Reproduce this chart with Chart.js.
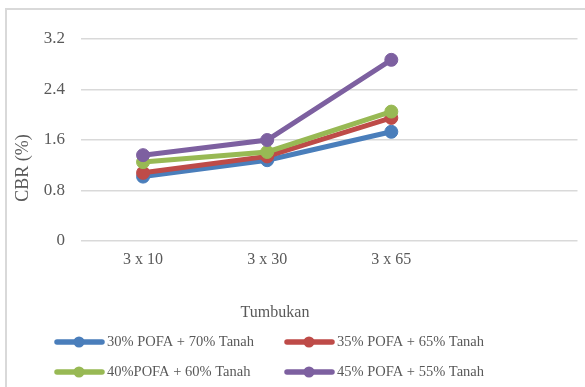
<!DOCTYPE html>
<html>
<head>
<meta charset="utf-8">
<script src="https://cdn.jsdelivr.net/npm/chart.js@4"></script>
<style>
  html, body { margin: 0; padding: 0; background: #ffffff; }
  #wrap { width: 585px; height: 387px; }
</style>
</head>
<body>
<div id="wrap"><canvas id="c" width="585" height="387"></canvas></div>
<script>
// Compaction categories (the last slot is left empty)
const categories = ['3 x 10', '3 x 30', '3 x 65', ''];
const yTicks = [0, 0.8, 1.6, 2.4, 3.2];

// CBR values (%) for each POFA / soil mixture
const pofa30 = [1.02, 1.28, 1.73];
const pofa35 = [1.08, 1.34, 1.95];
const pofa40 = [1.25, 1.41, 2.05];
const pofa45 = [1.36, 1.60, 2.87];

const seriesNames = [
  '30% POFA + 70% Tanah',
  '35% POFA + 65% Tanah',
  '40%POFA + 60% Tanah',
  '45% POFA + 55% Tanah'
];
const seriesColors = ['#4A7EBB', '#BE4B48', '#98B954', '#7D60A0'];
const xTitle = 'Tumbukan';
const yTitle = 'CBR (%)';

const textColor = '#595959';
const serif = '"Liberation Serif", "Times New Roman", serif';

function makeSet(label, data, color, order) {
  return {
    label: label,
    data: data,
    borderColor: color,
    backgroundColor: color,
    borderWidth: 5,
    pointRadius: 6.5,
    pointHoverRadius: 6.5,
    pointBorderWidth: 1,
    pointBorderColor: color,
    pointBackgroundColor: color,
    tension: 0,
    order: order
  };
}

// Frame, axis titles and the two-column legend
const decorations = {
  id: 'decorations',
  beforeDraw(chart) {
    const ctx = chart.ctx;
    ctx.save();
    ctx.strokeStyle = '#d9d9d9';
    ctx.lineWidth = 2;
    ctx.strokeRect(6, 9, 700, 500);
    ctx.restore();
  },
  afterDraw(chart) {
    const ctx = chart.ctx;
    ctx.save();
    ctx.fillStyle = textColor;
    ctx.textBaseline = 'middle';

    // x axis title
    ctx.font = '16px ' + serif;
    ctx.textAlign = 'center';
    ctx.fillText(xTitle, 275, 313);

    // y axis title
    ctx.save();
    ctx.translate(23, 168);
    ctx.rotate(-Math.PI / 2);
    ctx.font = '18px ' + serif;
    ctx.fillText(yTitle, 0, 0);
    ctx.restore();

    // legend
    const cols = [55, 285];
    const rows = [342, 372];
    ctx.font = '14.5px ' + serif;
    ctx.textAlign = 'left';
    chart.data.datasets.forEach((ds, i) => {
      const x = cols[i % 2];
      const y = rows[Math.floor(i / 2)];
      ctx.strokeStyle = ds.borderColor;
      ctx.fillStyle = ds.borderColor;
      ctx.lineWidth = 5.5;
      ctx.lineCap = 'round';
      ctx.beginPath();
      ctx.moveTo(x + 2, y);
      ctx.lineTo(x + 47, y);
      ctx.stroke();
      ctx.beginPath();
      ctx.arc(x + 24, y, 5.5, 0, Math.PI * 2);
      ctx.fill();
      ctx.fillStyle = textColor;
      ctx.fillText(ds.label, x + 52, y);
    });
    ctx.restore();
  }
};

new Chart(document.getElementById('c'), {
  type: 'line',
  data: {
    labels: categories,
    datasets: [
      makeSet(seriesNames[0], pofa30, seriesColors[0], 4),
      makeSet(seriesNames[1], pofa35, seriesColors[1], 3),
      makeSet(seriesNames[2], pofa40, seriesColors[2], 2),
      makeSet(seriesNames[3], pofa45, seriesColors[3], 1)
    ]
  },
  options: {
    responsive: false,
    animation: false,
    events: [],
    layout: { padding: { left: 0, top: 39, right: 4, bottom: 0 } },
    plugins: {
      legend: { display: false },
      tooltip: { enabled: false }
    },
    scales: {
      x: {
        type: 'category',
        offset: true,
        grid: { display: false, drawTicks: false },
        border: { display: false },
        ticks: {
          color: textColor,
          font: { family: serif, size: 16 },
          padding: 9,
          maxRotation: 0,
          autoSkip: false
        },
        afterFit(scale) { scale.height = 146; }
      },
      y: {
        min: 0,
        max: 3.2,
        afterBuildTicks(scale) { scale.ticks = yTicks.map(v => ({ value: v })); },
        grid: { color: '#d9d9d9', lineWidth: 1.5, drawTicks: false },
        border: { display: false },
        ticks: {
          color: textColor,
          font: { family: serif, size: 17 },
          padding: 16,
          callback: v => String(v)
        },
        afterFit(scale) { scale.width = 81; }
      }
    }
  },
  plugins: [decorations]
});
</script>
</body>
</html>
